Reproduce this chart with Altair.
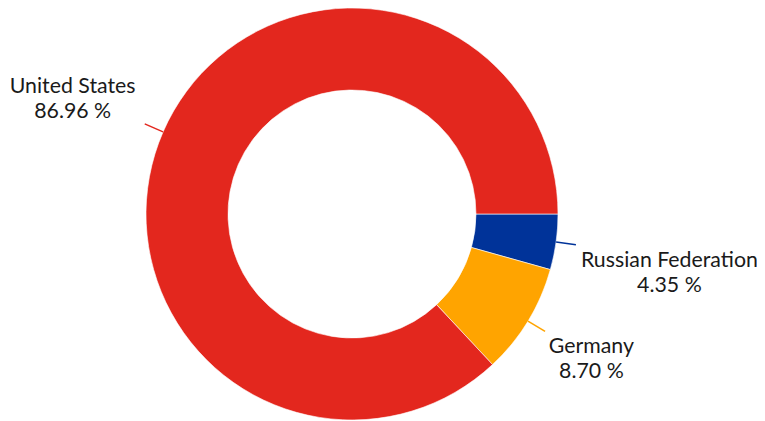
import math
import altair as alt
import pandas as pd

countries = ["Russian Federation", "Germany", "United States"]
shares = [4.35, 8.70, 86.96]
colors = ["#003399", "#FFA400", "#E3271E"]
ranks = [0, 1, 2]

# layout constants
CX, CY = 344, 206
R_OUT, R_IN, R_LINE = 206, 124, 226
GAP, K = 16.3, 4.29
DY_BELOW, DY_ABOVE = 16, -37

df = pd.DataFrame({"country": countries, "share": shares, "rank": ranks})

color_scale = alt.Scale(domain=countries, range=colors)

arc = alt.Chart(df).mark_arc(
    x=CX, y=CY, outerRadius=R_OUT, innerRadius=R_IN, stroke="#ffffff", strokeWidth=0.6
).encode(
    theta=alt.Theta("share:Q", stack=True,
                    scale=alt.Scale(range=[math.pi / 2, math.pi / 2 + 2 * math.pi])),
    color=alt.Color("country:N", scale=color_scale, legend=None),
    order=alt.Order("rank:Q"),
)

base = alt.Chart(df).transform_window(
    cum="sum(share)", sort=[alt.SortField("rank")], frame=[None, 0]
).transform_joinaggregate(
    total="sum(share)"
).transform_calculate(
    mid="PI/2 + 2*PI*(datum.cum - datum.share/2)/datum.total"
).transform_calculate(
    x1=f"{CX} + {R_OUT}*sin(datum.mid)",
    y1=f"{CY} - {R_OUT}*cos(datum.mid)",
    x2=f"{CX} + {R_LINE}*sin(datum.mid)",
    y2=f"{CY} - {R_LINE}*cos(datum.mid)",
).transform_calculate(
    tx=f"datum.x2 + (sin(datum.mid) >= 0 ? 1 : -1) * ({GAP} + {K}*length(datum.country))",
    ty=f"datum.y2 + (cos(datum.mid) <= 0 ? {DY_BELOW} : {DY_ABOVE})",
    label="datum.country + '\\n' + format(datum.share, '.2f') + ' %'",
)

rules = base.mark_rule(strokeWidth=1.5).encode(
    x=alt.X("x1:Q", scale=None, axis=None),
    y=alt.Y("y1:Q", scale=None, axis=None),
    x2="x2:Q",
    y2="y2:Q",
    color=alt.Color("country:N", scale=color_scale, legend=None),
)

texts = base.mark_text(
    lineBreak="\n", align="center", baseline="middle", font="Lato",
    fontSize=21.3, lineHeight=25, color="#1a1a1a"
).encode(
    x=alt.X("tx:Q", scale=None, axis=None),
    y=alt.Y("ty:Q", scale=None, axis=None),
    text="label:N",
)

chart = alt.layer(arc, rules, texts).properties(
    width=749, height=413, autosize="none", padding=0
).configure_view(stroke=None)

chart.save("out.html", embed_options={"renderer": "svg", "actions": False})
